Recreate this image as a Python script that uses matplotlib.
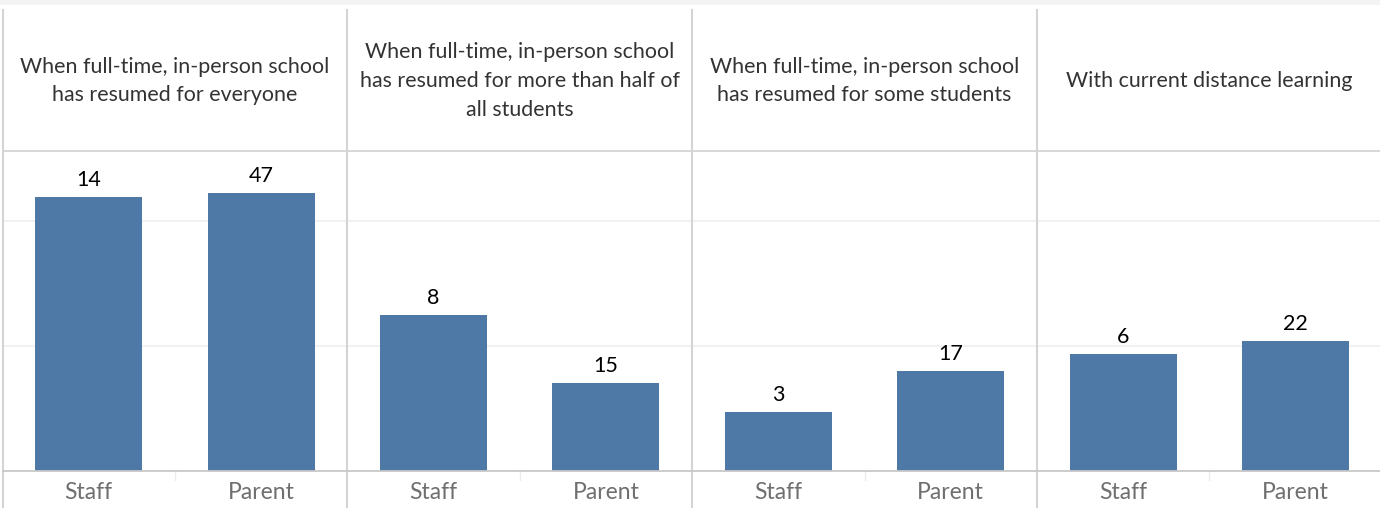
import matplotlib.pyplot as plt
from matplotlib.lines import Line2D
from matplotlib.patches import Rectangle

plt.rcParams['font.family'] = ['Lato', 'DejaVu Sans']

# scenarios (column headers)
scenarios = [
    "When full-time, in-person school\nhas resumed for everyone",
    "When full-time, in-person school\nhas resumed for more than half of\nall students",
    "When full-time, in-person school\nhas resumed for some students",
    "With current distance learning",
]
groups = ["Staff", "Parent"]

# counts shown as labels
staff_counts = [14, 8, 3, 6]
parent_counts = [47, 15, 17, 22]

# bar heights (share of respondents, %)
staff_share = [43.8, 24.9, 9.4, 18.6]
parent_share = [44.4, 14.0, 15.9, 20.7]

W, H = 1380, 508
fig = plt.figure(figsize=(W / 100, H / 100), dpi=100)

def fx(px):
    return px / W

def fy(py):
    return 1 - py / H

bar_col = "#4e79a7"
line_col = "#d4d4d4"
grid_col = "#f0f0f0"

# top grey band
fig.add_artist(Rectangle((0, fy(4.5)), 1, 4.5 / H, transform=fig.transFigure,
                         color="#f3f3f3", lw=0))

left = 2.5
pw = 344.8
top_px, bot_px = 151, 470.5
ymax = (bot_px - top_px) / 6.25

for i, title in enumerate(scenarios):
    x0 = left + i * pw
    ax = fig.add_axes([fx(x0), fy(bot_px), fx(pw), (bot_px - top_px) / H])
    vals = [staff_share[i], parent_share[i]]
    cnts = [staff_counts[i], parent_counts[i]]
    ax.bar([0, 1], vals, width=0.62, color=bar_col, zorder=2)
    for xv, v, c in zip([0, 1], vals, cnts):
        ax.annotate(str(c), (xv, v), xytext=(0, 5), textcoords="offset points",
                    ha="center", va="bottom", fontsize=15.5, color="black")
    ax.set_xlim(-0.5, 1.5)
    ax.set_ylim(0, ymax)
    ax.set_yticks([20, 40])
    ax.grid(axis="y", color=grid_col, lw=1.3, zorder=0)
    ax.tick_params(left=False, labelleft=False, bottom=False)
    ax.set_xticks([0, 1])
    ax.set_xticklabels(groups, fontsize=16.5, color="#6f6f6f")
    ax.tick_params(axis="x", pad=5)
    for s in ax.spines.values():
        s.set_visible(False)
    ax.set_facecolor("none")

    # header text
    fig.text(fx(x0 + pw / 2), fy(81), title, ha="center", va="center",
             fontsize=15.4, color="#333333", linespacing=1.55)

    # small separator between the two category labels
    fig.add_artist(Line2D([fx(x0 + pw / 2)] * 2, [fy(471), fy(480)],
                          color="#ececec", lw=1))

# panel separators
for i in range(5):
    xv = left + i * pw
    fig.add_artist(Line2D([fx(xv)] * 2, [fy(10), 0], color=line_col, lw=1.5))

# header bottom and axis line
fig.add_artist(Line2D([fx(left), 1], [fy(151)] * 2, color=line_col, lw=1.3))
fig.add_artist(Line2D([fx(left), 1], [fy(470.5)] * 2, color="#c8c8c8", lw=1.3))

fig.savefig("out.png", dpi=100, facecolor="white")
